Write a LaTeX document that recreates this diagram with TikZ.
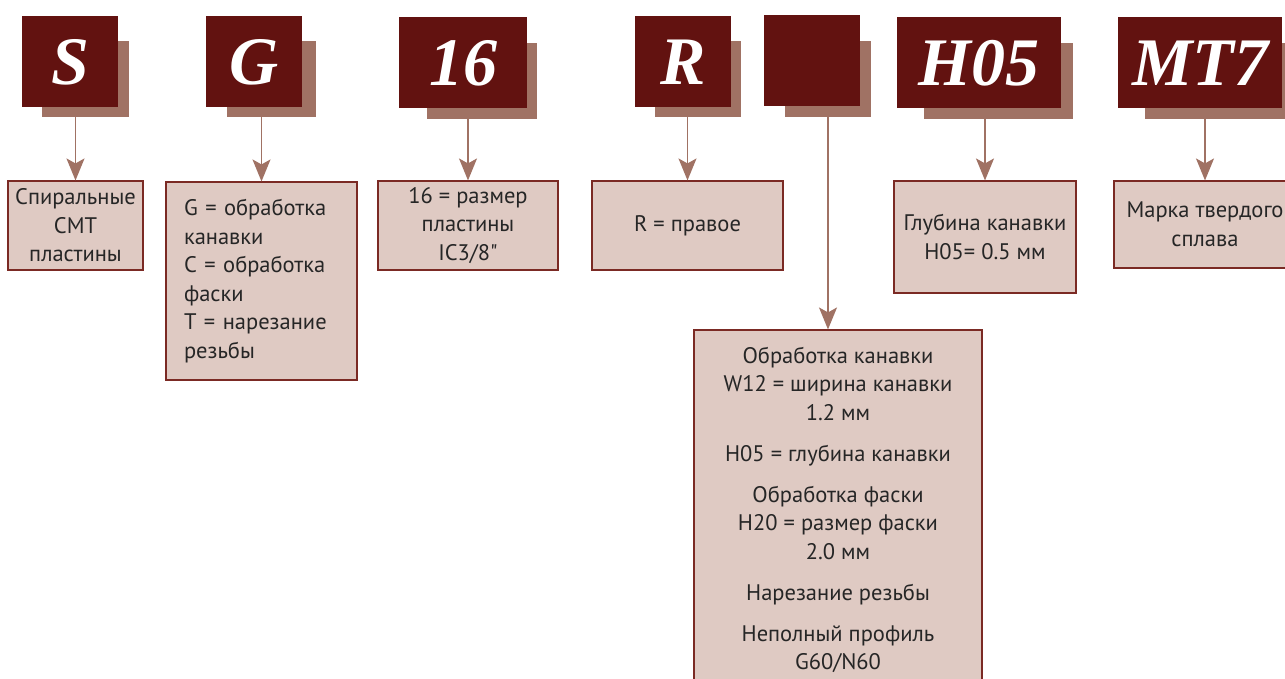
\documentclass[tikz,border=0pt]{standalone}
\usepackage{fontspec}
\setmainfont{PT Sans}
\newfontfamily\plainq{PT Sans}[Ligatures=TeXOff]
\newfontfamily\bigserif{Liberation Serif}
\usetikzlibrary{arrows.meta}
\definecolor{darkred}{RGB}{98,18,16}
\definecolor{shadowc}{RGB}{160,114,100}
\definecolor{lightc}{RGB}{223,202,195}
\definecolor{borderc}{RGB}{123,42,36}
\definecolor{textc}{RGB}{38,38,38}
\begin{document}
\begin{tikzpicture}[x=1pt,y=-1pt,
  darkbox/.style={fill=darkred, inner sep=0pt, minimum height=91pt, text=white,
    font=\bigserif\bfseries\itshape\fontsize{68}{68}\selectfont},
  shadowbox/.style={fill=shadowc, inner sep=0pt, minimum height=76pt},
  lightbox/.style={fill=lightc, draw=borderc, line width=1.1pt, inner sep=4pt, align=center,
    text=textc, font=\fontsize{22.5}{28.5}\selectfont},
  conn/.style={draw=shadowc, line width=1.6pt, -{Stealth[length=22pt,width=18pt,inset=5pt]}}
]
\useasboundingbox (0,0) rectangle (1285,679);
% shadows
\node[shadowbox, minimum width=87pt] (sS) at (85.5,79) {};
\node[shadowbox, minimum width=89pt] (sG) at (271.5,79) {};
\node[shadowbox, minimum width=110pt] (s16) at (482,81) {};
\node[shadowbox, minimum width=86pt] (sR) at (698,79) {};
\node[shadowbox, minimum width=86pt] (sB) at (828,79) {};
\node[shadowbox, minimum width=149pt] (sH) at (998.5,81) {};
\node[shadowbox, minimum width=149pt] (sM) at (1219.5,81) {};
% dark boxes
\node[darkbox, minimum width=96pt] (dS) at (70,62) {S};
\node[darkbox, minimum width=96pt] (dG) at (254,62) {G};
\node[darkbox, minimum width=128pt] (d16) at (463,63) {16};
\node[darkbox, minimum width=96pt] (dR) at (683,62) {R};
\node[darkbox, minimum width=96pt] (dB) at (812,60.5) {};
\node[darkbox, minimum width=164pt] (dH) at (979,63) {H05};
\node[darkbox, minimum width=164pt] (dM) at (1200,63) {MT7};
% light boxes
\node[lightbox, minimum width=135pt, minimum height=89pt] (lS) at (75.5,225.5)
  {Спиральные\\СМТ\\пластины};
\node[lightbox, minimum width=191pt, minimum height=198pt, align=left, text width=155pt, inner xsep=18pt] (lG) at (261.5,281)
  {G = обработка\\канавки\\C = обработка\\фаски\\T = нарезание\\резьбы};
\node[lightbox, minimum width=180pt, minimum height=89pt] (l16) at (468,225.5)
  {16 = размер\\пластины\\IC3/8{\plainq\char34}};
\node[lightbox, minimum width=191pt, minimum height=89pt] (lR) at (687.5,225.5)
  {R = правое};
\node[lightbox, minimum width=182pt, minimum height=112pt] (lH) at (985,237)
  {Глубина канавки\\H05= 0.5 мм};
\node[lightbox, minimum width=182pt, minimum height=87pt] (lM) at (1205,224.5)
  {Марка твердого\\сплава};
\node[lightbox, minimum width=288pt, minimum height=360pt] (lB) at (838,510)
  {Обработка канавки\\W12 = ширина канавки\\1.2 мм\\[12.5pt]
   H05 = глубина канавки\\[12.5pt]
   Обработка фаски\\H20 = размер фаски\\2.0 мм\\[12.5pt]
   Нарезание резьбы\\[12.5pt]
   Неполный профиль\\G60/N60};
% connectors
\draw[conn] (lS.north |- sS.south) -- (lS.north);
\draw[conn] (lG.north |- sG.south) -- (lG.north);
\draw[conn] (l16.north |- s16.south) -- (l16.north);
\draw[conn] (lR.north |- sR.south) -- (lR.north);
\draw[conn] (lH.north |- sH.south) -- (lH.north);
\draw[conn] (lM.north |- sM.south) -- (lM.north);
\draw[conn] (sB.south) -- (sB.south |- lB.north);
\end{tikzpicture}
\end{document}
